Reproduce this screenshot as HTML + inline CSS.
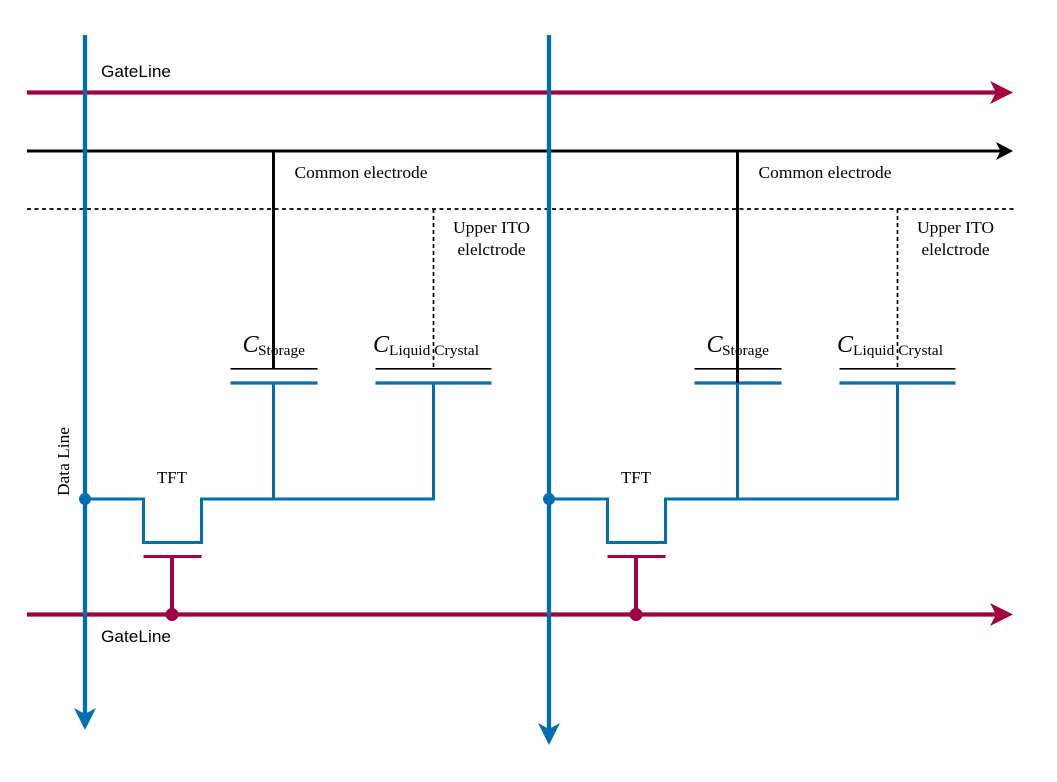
<!DOCTYPE html>
<html>
<head>
<meta charset="utf-8">
<style>
html,body{margin:0;padding:0;background:#fff;width:1057px;height:782px;overflow:hidden}
svg{display:block}
.s{font-family:"Liberation Serif",serif;font-size:16.5px;fill:#000}
.a{font-family:"Liberation Sans",sans-serif;font-size:17px;fill:#000}
.c{font-family:"Liberation Serif",serif;font-style:italic;font-size:24px;fill:#000}
.b{font-family:"Liberation Serif",serif;font-size:15px;fill:#000}
</style>
</head>
<body>
<svg width="1057" height="782" viewBox="0 0 1057 782" xmlns="http://www.w3.org/2000/svg">
<defs>
<g id="cell">
  <!-- capacitor plates -->
  <path d="M230.500 368.800H317.500M375.500 368.800H491.500" stroke="#000" stroke-width="1.700" fill="none"/>
  <path d="M230.500 383H317.500M375.500 383H491.500" stroke="#006eaf" stroke-width="3.200" fill="none"/>
  <!-- TFT and wiring -->
  <path d="M85 499H143.500V542.500H201.500V499H433.500V383M273.500 499V383" stroke="#006eaf" stroke-width="3" fill="none"/>
  <path d="M433.500 209V369" stroke="#000" stroke-width="1.700" stroke-dasharray="4 3" fill="none"/>
  <path d="M143.500 556.500H201.500" stroke="#a20040" stroke-width="3" fill="none"/>
  <path d="M172 556.500V614.500" stroke="#a20040" stroke-width="4" fill="none"/>
  <circle cx="172" cy="614.500" r="6.500" fill="#a20040"/>
  <circle cx="85" cy="499" r="6" fill="#006eaf"/>
  <!-- labels -->
  <text class="s" x="361" y="178" text-anchor="middle" textLength="133" lengthAdjust="spacingAndGlyphs">Common electrode</text>
  <text class="s" x="491.500" y="233" text-anchor="middle" textLength="77" lengthAdjust="spacingAndGlyphs">Upper ITO</text>
  <text class="s" x="491.500" y="255" text-anchor="middle" textLength="68" lengthAdjust="spacingAndGlyphs">elelctrode</text>
  <text class="s" x="172" y="483" text-anchor="middle" textLength="30" lengthAdjust="spacingAndGlyphs">TFT</text>
  <text class="c" x="242.500" y="352">C</text>
  <text class="b" x="258" y="355" textLength="47" lengthAdjust="spacingAndGlyphs">Storage</text>
  <text class="c" x="373" y="352">C</text>
  <text class="b" x="389" y="355" textLength="90" lengthAdjust="spacingAndGlyphs">Liquid Crystal</text>
</g>
</defs>

<!-- Common electrode and dashed line -->
<path d="M27 151H1003" stroke="#000" stroke-width="3" fill="none"/>
<polygon points="1013,151 996,160 1000.500,151 996,142" fill="#000"/>
<path d="M27 209H1016" stroke="#000" stroke-width="1.700" stroke-dasharray="4 3.500" fill="none"/>
<path d="M273.500 151V369M737.500 151V383" stroke="#000" stroke-width="3" fill="none"/>

<!-- Gate lines -->
<path d="M27 92.500H998" stroke="#a20040" stroke-width="4.300" fill="none"/>
<polygon points="1013,92.500 990,104 996,92.500 990,81" fill="#a20040"/>
<path d="M27 614.500H998" stroke="#a20040" stroke-width="4.300" fill="none"/>
<polygon points="1013,614.500 990,626 996,614.500 990,603" fill="#a20040"/>

<use href="#cell"/>
<use href="#cell" x="464"/>
<path d="M737.500 369V383" stroke="#000" stroke-width="3" fill="none"/>

<!-- Data lines -->
<path d="M85 35V715" stroke="#006eaf" stroke-width="4.300" fill="none"/>
<polygon points="85,730 74,708 85,714 96,708" fill="#006eaf"/>
<path d="M549 35V730" stroke="#006eaf" stroke-width="4.300" fill="none"/>
<polygon points="549,745 538,723 549,729 560,723" fill="#006eaf"/>

<text class="a" x="101" y="77" textLength="70" lengthAdjust="spacingAndGlyphs">GateLine</text>
<text class="a" x="101" y="642" textLength="70" lengthAdjust="spacingAndGlyphs">GateLine</text>
<text class="s" transform="translate(69 496) rotate(-90)" textLength="69" lengthAdjust="spacingAndGlyphs">Data Line</text>
</svg>
</body>
</html>
